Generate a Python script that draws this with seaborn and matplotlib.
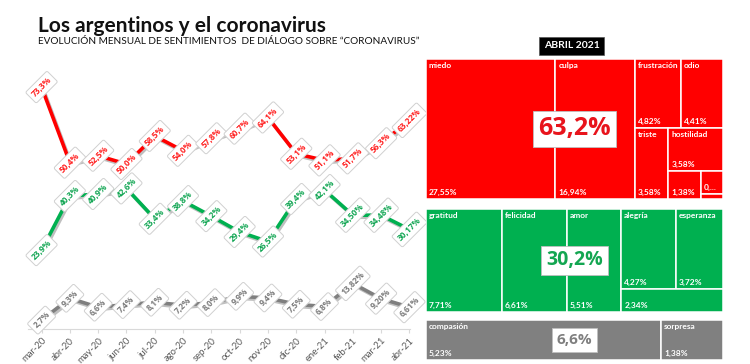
import matplotlib
matplotlib.use("Agg")
import matplotlib.pyplot as plt
import seaborn as sns
import pandas as pd
from matplotlib import patheffects as pe
from matplotlib.patches import Rectangle

# ---------------- data ----------------
MONTHS = ["mar-20", "abr-20", "may-20", "jun-20", "jul-20", "ago-20", "sep-20",
          "oct-20", "nov-20", "dic-20", "ene-21", "feb-21", "mar-21", "abr-21"]
NEG = [73.3, 50.4, 52.5, 50.0, 58.5, 54.0, 57.8, 60.7, 64.1, 53.1, 51.1, 51.7, 56.3, 63.22]
POS = [23.9, 40.3, 40.9, 42.6, 33.4, 38.8, 34.2, 29.4, 26.5, 39.4, 42.1, 34.50, 34.48, 30.17]
NEU = [2.7, 9.3, 6.6, 7.4, 8.1, 7.2, 8.0, 9.9, 9.4, 7.5, 6.8, 13.82, 9.20, 6.61]
NEG_LABELS = ["73,3%", "50,4%", "52,5%", "50,0%", "58,5%", "54,0%", "57,8%", "60,7%",
              "64,1%", "53,1%", "51,1%", "51,7%", "56,3%", "63,22%"]
POS_LABELS = ["23,9%", "40,3%", "40,9%", "42,6%", "33,4%", "38,8%", "34,2%", "29,4%",
              "26,5%", "39,4%", "42,1%", "34,50%", "34,48%", "30,17%"]
NEU_LABELS = ["2,7%", "9,3%", "6,6%", "7,4%", "8,1%", "7,2%", "8,0%", "9,9%",
              "9,4%", "7,5%", "6,8%", "13,82%", "9,20%", "6,61%"]

RED_NAMES = ["miedo", "culpa", "frustración", "odio", "triste", "hostilidad", "", "", ""]
RED_VALUES = [27.55, 16.94, 4.82, 4.41, 3.58, 3.58, 1.38, 0.78, 0.16]
RED_ROWS = [1, 1, 2, 1, 1, 1, 1, 1]
GREEN_NAMES = ["gratitud", "felicidad", "amor", "alegría", "esperanza", ""]
GREEN_VALUES = [7.71, 6.61, 5.51, 4.27, 3.72, 2.34]
GREEN_ROWS = [1, 1, 1, 2, 1]
GRAY_NAMES = ["compasión", "sorpresa"]
GRAY_VALUES = [5.23, 1.38]
GRAY_ROWS = [1, 1]
TOTALS = ["63,2%", "30,2%", "6,6%"]

RED = "#ff0000"
GREEN = "#00b050"
GRAY = "#7f7f7f"
LBL_FONT = ["Open Sans", "DejaVu Sans"]
TM_FONT = ["Lato", "DejaVu Sans"]

sns.set_style("white")
plt.rcParams["font.family"] = ["Lato", "DejaVu Sans"]

W, H = 750, 364
fig = plt.figure(figsize=(W / 100, H / 100), dpi=100)

fig.text(38 / W, 1 - 26 / H, "Los argentinos y el coronavirus", fontsize=15,
         fontweight="bold", color="#111111", va="center", ha="left")
fig.text(38 / W, 1 - 42 / H,
         "EVOLUCIÓN MENSUAL DE SENTIMIENTOS  DE DIÁLOGO SOBRE \u201cCORONAVIRUS\u201d",
         fontsize=7.2, color="#111111", va="center", ha="left")

# ---------------- line chart ----------------
ax = fig.add_axes([28 / W, (H - 329) / H, (410 - 28) / W, 264 / H])
rows = []
for name, vals in (("neg", NEG), ("pos", POS), ("neu", NEU)):
    for i, v in enumerate(vals):
        rows.append({"x": i, "value": v, "serie": name})
df = pd.DataFrame(rows)
sns.lineplot(data=df, x="x", y="value", hue="serie",
             palette={"neg": RED, "pos": GREEN, "neu": GRAY},
             linewidth=2.6, legend=False, ax=ax)
for line in ax.lines:
    line.set_path_effects([pe.SimpleLineShadow(offset=(1.2, -1.5), shadow_color="#000000", alpha=0.25),
                           pe.Normal()])

for vals, labs, col in ((NEG, NEG_LABELS, "#ff1f1f"), (POS, POS_LABELS, "#10a552"),
                        (NEU, NEU_LABELS, "#7a7a7a")):
    for i, (v, lab) in enumerate(zip(vals, labs)):
        ax.text(i, v, lab, rotation=45, ha="center", va="center", fontsize=6,
                fontweight="bold", color=col, zorder=5, family=LBL_FONT,
                bbox=dict(boxstyle="round,pad=0.38,rounding_size=0.2", fc="white",
                          ec="#d0d0d0", lw=0.7))

ax.set_xlim(-0.48, 13.02)
ax.set_ylim(0, 80)
ax.set_xticks(range(len(MONTHS)))
ax.set_xticklabels(MONTHS, rotation=45, ha="right", rotation_mode="anchor",
                   fontsize=6.8, color="#595959")
ax.set_yticks([])
ax.set_xlabel("")
ax.set_ylabel("")
for s in ("top", "right", "left"):
    ax.spines[s].set_visible(False)
ax.spines["bottom"].set_color("#d9d9d9")
ax.spines["bottom"].set_linewidth(0.8)
ax.tick_params(axis="x", length=3, width=0.8, color="#d9d9d9", pad=2, bottom=True)
ax.set_facecolor("none")


# ---------------- treemap ----------------
def layout(values, groups, w, h):
    rects = []
    x, y = 0.0, 0.0
    total = float(sum(values))
    i = 0
    for n in groups:
        row = values[i:i + n]
        s = float(sum(row))
        if w >= h:
            cw = w * s / total
            yy = y
            for v in row:
                rh = h * v / s
                rects.append((x, yy, cw, rh))
                yy += rh
            x += cw
            w -= cw
        else:
            rh = h * s / total
            xx = x
            for v in row:
                rw = w * v / s
                rects.append((xx, y, rw, rh))
                xx += rw
            y += rh
            h -= rh
        total -= s
        i += n
    return rects


def fmt(v):
    return f"{v:.2f}".replace(".", ",") + "%"


def treemap(top, bottom, names, values, groups, color, total_label, tcolor, tsize, boxpad):
    left, right = 426, 723
    w, h = right - left, bottom - top
    tax = fig.add_axes([left / W, (H - bottom) / H, w / W, h / H])
    tax.set_xlim(0, w)
    tax.set_ylim(h, 0)
    tax.axis("off")
    for (x, y, rw, rh), name, v in zip(layout(values, groups, w, h), names, values):
        tax.add_patch(Rectangle((x, y), rw, rh, fc=color, ec="white", lw=1.1))
        if name and rh > 14:
            tax.text(x + 3, y + 3, name, color="white", fontsize=6, fontweight="bold",
                     ha="left", va="top", family=TM_FONT)
        if rh > 10:
            lab = fmt(v)
            if rw < 26:
                lab = lab[:2] + "..."
            tax.text(x + 3, y + rh - 3, lab, color="white", fontsize=6,
                     fontweight="bold", ha="left", va="bottom", family=TM_FONT)
    tax.text(w / 2, h / 2, total_label, color=tcolor, fontsize=tsize, fontweight="bold",
             ha="center", va="center", zorder=6, family=LBL_FONT,
             bbox=dict(boxstyle=f"square,pad={boxpad}", fc="white", ec="#bfbfbf", lw=0.6))


treemap(59, 199, RED_NAMES, RED_VALUES, RED_ROWS, RED, TOTALS[0], "#e8141c", 18, 0.22)
treemap(209, 312, GREEN_NAMES, GREEN_VALUES, GREEN_ROWS, GREEN, TOTALS[1], "#13a651", 14, 0.25)
treemap(320, 360, GRAY_NAMES, GRAY_VALUES, GRAY_ROWS, "#808080", TOTALS[2], "#7f7f7f", 11, 0.3)

fig.text(571.5 / W, 1 - 46 / H, "ABRIL 2021", color="white", fontsize=7.5, fontweight="bold",
         ha="center", va="center",
         bbox=dict(boxstyle="square,pad=0.45", fc="black", ec="#555555", lw=0.5))

fig.savefig("out.png", dpi=100)
